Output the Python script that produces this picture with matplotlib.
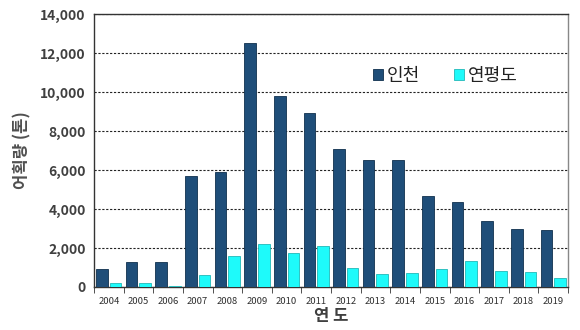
import matplotlib
matplotlib.use("Agg")
import matplotlib.pyplot as plt
import numpy as np
from matplotlib.ticker import FuncFormatter

plt.rcParams['font.family'] = ['Noto Sans CJK KR', 'DejaVu Sans']

years = ['2004', '2005', '2006', '2007', '2008', '2009', '2010', '2011',
         '2012', '2013', '2014', '2015', '2016', '2017', '2018', '2019']
incheon = [900, 1300, 1300, 5700, 5900, 12500, 9800, 8900,
           7100, 6500, 6500, 4650, 4350, 3400, 3000, 2900]
yeonpyeong = [200, 200, 70, 600, 1600, 2200, 1750, 2100,
              950, 650, 700, 900, 1350, 800, 750, 450]
series_names = ['인천', '연평도']
y_ticks = [0, 2000, 4000, 6000, 8000, 10000, 12000, 14000]

fig = plt.figure(figsize=(5.8, 3.3), dpi=100)
ax = fig.add_axes([94/580, 1-287/330, (568-94)/580, (287-14)/330])

x = np.arange(len(years))
w = 0.39
ax.bar(x - 0.23, incheon, w, color='#1F4E79', edgecolor='#10304e', linewidth=0.6,
       label=series_names[0], zorder=3)
ax.bar(x + 0.23, yeonpyeong, w, color='#1EFAFA', edgecolor='#22b8b8', linewidth=0.6,
       label=series_names[1], zorder=3)

ax.set_xlim(-0.5, len(years) - 0.5)
ax.set_ylim(0, 14000)
ax.set_yticks(y_ticks)
ax.yaxis.set_major_formatter(FuncFormatter(lambda v, p: f'{int(v):,}'))
ax.set_xticks(x)
ax.set_xticklabels(years, fontsize=6.8, color='#303030')
ax.set_xticks(np.arange(-0.5, len(years)), minor=True)
ax.tick_params(axis='x', which='major', length=0, pad=7)
ax.tick_params(axis='x', which='minor', length=4, direction='out', color='#333333')
ax.tick_params(axis='y', length=0, pad=6, labelsize=10, labelcolor='#404040')
for lab in ax.get_yticklabels():
    lab.set_fontweight('bold')

ax.grid(axis='y', linestyle=(0, (2, 1.5)), color='#222222', linewidth=0.8, zorder=0)
for s in ['left', 'bottom', 'top']:
    ax.spines[s].set_color('#333333')
    ax.spines[s].set_linewidth(1.0)
ax.spines['right'].set_color('#888888')
ax.spines['right'].set_linewidth(1.0)

ax.set_ylabel('어획량 (톤)', fontsize=12, color='#505050', fontweight='bold', labelpad=6)
ax.set_xlabel('연 도', fontsize=12, color='#404040', fontweight='bold', labelpad=1)

leg = ax.legend(loc='upper left', bbox_to_anchor=(0.555, 0.865), ncol=2, frameon=False,
                fontsize=13, handlelength=0.55, handleheight=0.55, handletextpad=0.2,
                columnspacing=1.9)
for t in leg.get_texts():
    t.set_fontweight('medium')
    t.set_color('#222222')

fig.savefig('out.png', dpi=100)
